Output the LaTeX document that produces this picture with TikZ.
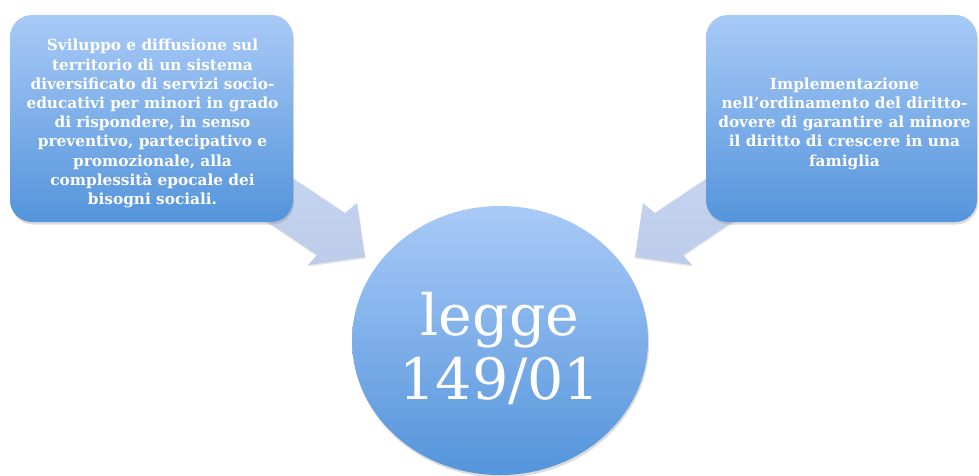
\documentclass[tikz,border=0pt]{standalone}
\usepackage{fontspec}
\setmainfont{DejaVu Serif}
\usetikzlibrary{shapes.geometric,shadows}
\definecolor{boxtop}{RGB}{168,202,247}
\definecolor{boxbottom}{RGB}{84,148,219}
\definecolor{arrowtop}{RGB}{200,214,240}
\definecolor{arrowbottom}{RGB}{188,204,234}
\tikzset{
  softshadow/.style={drop shadow={opacity=0.28, shadow xshift=1pt, shadow yshift=-2.5pt}},
  infobox/.style={rounded corners=22pt, top color=boxtop, bottom color=boxbottom,
    softshadow, inner sep=0pt},
  boxtext/.style={text=white, align=center, inner sep=0pt,
    font=\bfseries\fontsize{15.3}{19.2}\selectfont},
  hub/.style={ellipse, top color=boxtop, bottom color=boxbottom, softshadow, inner sep=0pt},
  hubtext/.style={text=white, align=center, inner sep=0pt,
    font=\fontsize{57}{64}\selectfont},
  blockarrow/.style={top color=arrowtop, bottom color=arrowbottom,
    drop shadow={opacity=0.2, shadow xshift=0.5pt, shadow yshift=-1.5pt}}
}
\begin{document}
\begin{tikzpicture}[x=1pt,y=-1pt]
\useasboundingbox (0,0) rectangle (979,476);
\fill[white] (0,0) rectangle (979,476);

% block arrows pointing from the two boxes to the central ellipse
\path[blockarrow] (245,146) -- (345,213) -- (357,203) -- (365,257)
  -- (308,265) -- (317,255) -- (217,188) -- cycle;
\path[blockarrow] (755,146) -- (655,213) -- (643,203) -- (635,257)
  -- (692,265) -- (683,255) -- (783,188) -- cycle;

% left box
\node[infobox, minimum width=283pt, minimum height=207pt] (left) at (151.5,118.5) {};
\node[boxtext] (lefttext) at ([xshift=1pt,yshift=-5pt]left.center)
  {Sviluppo e diffusione sul\\ territorio di un sistema\\ diversificato di servizi socio-\\
   educativi per minori in grado\\ di rispondere, in senso\\ preventivo, partecipativo e\\
   promozionale, alla\\ complessità epocale dei\\ bisogni sociali.};

% right box
\node[infobox, minimum width=271pt, minimum height=207pt] (right) at (841.5,118.5) {};
\node[boxtext] (righttext) at ([xshift=3pt,yshift=-5pt]right.center)
  {Implementazione\\ nell’ordinamento del diritto-\\ dovere di garantire al minore\\
   il diritto di crescere in una\\ famiglia};

% central ellipse
\node[hub, minimum width=296pt, minimum height=269pt] (law) at (500,340.5) {};
\node[hubtext] (lawtext) at ([yshift=-8pt]law.center) {legge\\ 149/01};
\end{tikzpicture}
\end{document}
